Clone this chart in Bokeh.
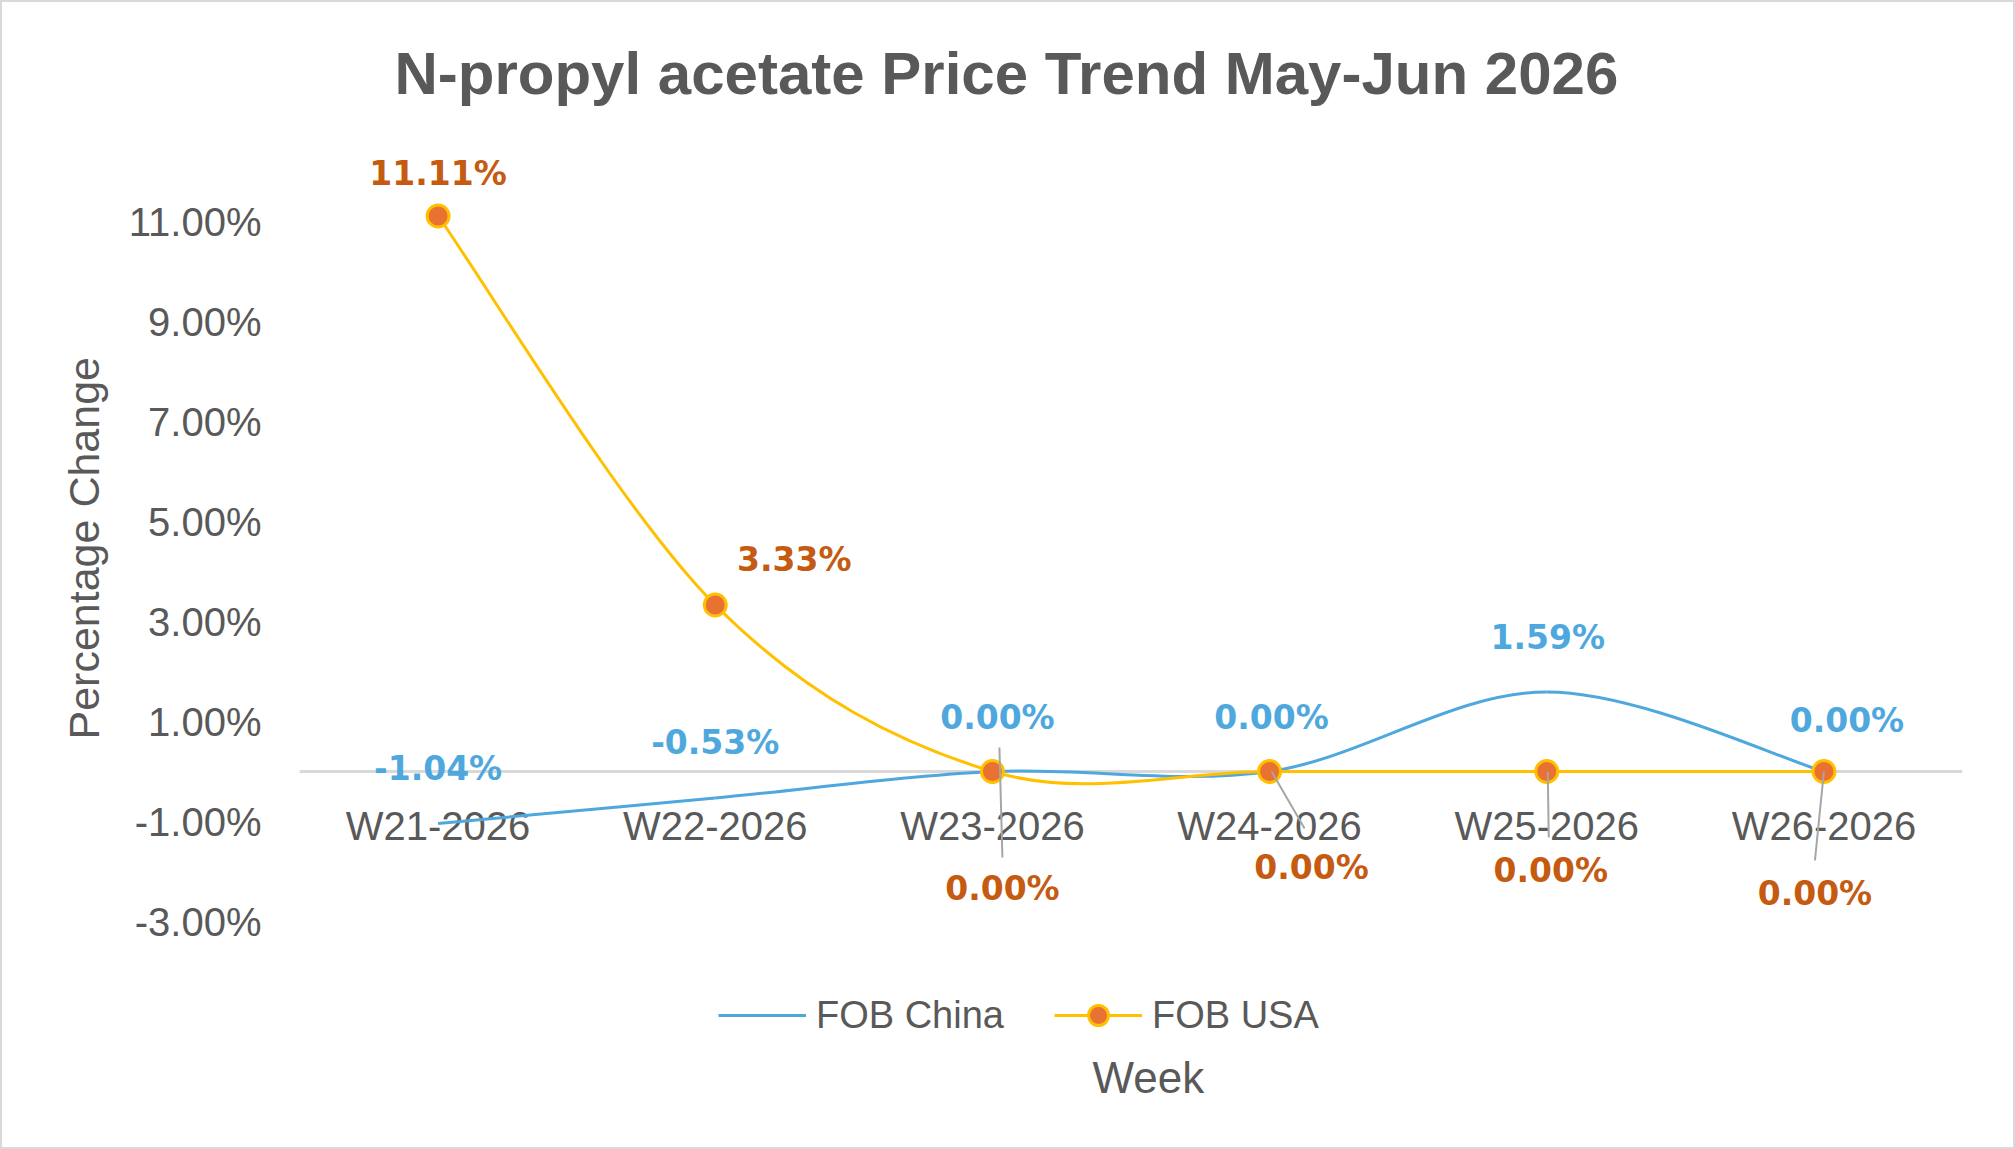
from bokeh.plotting import figure
from bokeh.models import (FixedTicker, PrintfTickFormatter, LinearAxis, Legend,
                          LegendItem, Title, Range1d, Label)
from bokeh.embed import file_html
from bokeh.resources import INLINE
from bokeh.core.properties import value

# ---- data -------------------------------------------------------------
weeks = ["W21-2026", "W22-2026", "W23-2026", "W24-2026", "W25-2026", "W26-2026"]
fob_china = [-1.04, -0.53, 0.00, 0.00, 1.59, 0.00]
fob_usa = [11.11, 3.33, 0.00, 0.00, 0.00, 0.00]
y_ticks = [-3, -1, 1, 3, 5, 7, 9, 11]

# ---- styling ----------------------------------------------------------
BLUE = "#4EA8DE"
GOLD = "#FFC000"
ORANGE_FILL = "#E97132"
ORANGE_TEXT = "#C55A11"
GREY_TEXT = "#595959"
LEADER = "#A6A6A6"
FONT = "Liberation Sans"
LABEL_FONT = "DejaVu Sans"

# the plotting frame runs down to the canvas foot so the legend and the
# axis title can sit inside it
FRAME_W, FRAME_H = 1663, 1020
X_MIN, X_MAX = -0.5, len(weeks) - 0.5
Y_MAX = 13
PX_X = FRAME_W / (X_MAX - X_MIN)
PX_Y = 50.0
Y_MIN = Y_MAX - FRAME_H / PX_Y

xs = list(range(len(weeks)))

p = figure(frame_width=FRAME_W, frame_height=FRAME_H,
           min_border_left=297, min_border_right=51,
           min_border_top=119, min_border_bottom=6,
           x_range=Range1d(X_MIN, X_MAX), y_range=Range1d(Y_MIN, Y_MAX),
           x_axis_location=None, y_axis_location=None,
           output_backend="svg", toolbar_location=None,
           background_fill_color="white", border_fill_color="white")
p.outline_line_color = None
p.xgrid.visible = False
p.ygrid.visible = False
p.styles = {"border": "2px solid #D9D9D9"}

p.title = Title(text="N-propyl acetate Price Trend May-Jun 2026", align="left",
                offset=95, text_font=FONT, text_font_style="bold",
                text_font_size="60px", text_color=GREY_TEXT, standoff=30)

# y axis
yax = LinearAxis(ticker=FixedTicker(ticks=y_ticks),
                 formatter=PrintfTickFormatter(format="%.2f%%"))
yax.axis_line_color = None
yax.major_tick_line_color = None
yax.minor_tick_line_color = None
yax.major_label_standoff = 32
yax.major_label_text_font = FONT
yax.major_label_text_font_size = "40px"
yax.major_label_text_color = GREY_TEXT
p.add_layout(yax, "left")

# y axis title
p.add_layout(Title(text="Percentage Change", align="left", offset=402,
                   vertical_align="bottom", standoff=36, text_font=FONT,
                   text_font_style="normal", text_font_size="43px",
                   text_color=GREY_TEXT), "left")

# category axis crossing at zero
cat_axis = LinearAxis(ticker=FixedTicker(ticks=xs),
                      major_label_overrides={i: w for i, w in enumerate(weeks)})
cat_axis.fixed_location = 0
cat_axis.level = "underlay"
cat_axis.axis_line_color = "#D9D9D9"
cat_axis.axis_line_width = 3
cat_axis.major_tick_line_color = None
cat_axis.minor_tick_line_color = None
cat_axis.major_label_standoff = 26
cat_axis.major_label_text_font = FONT
cat_axis.major_label_text_font_size = "40px"
cat_axis.major_label_text_color = GREY_TEXT
p.add_layout(cat_axis, "below")


# smoothed curves: cubic Bezier segments through the points (tension 1/6)
def smooth_segments(xv, yv):
    n = len(xv)
    seg = dict(x0=[], y0=[], x1=[], y1=[], cx0=[], cy0=[], cx1=[], cy1=[])
    for i in range(n - 1):
        a, b = max(i - 1, 0), min(i + 2, n - 1)
        seg["x0"].append(xv[i]); seg["y0"].append(yv[i])
        seg["x1"].append(xv[i + 1]); seg["y1"].append(yv[i + 1])
        seg["cx0"].append(xv[i] + (xv[i + 1] - xv[a]) / 6)
        seg["cy0"].append(yv[i] + (yv[i + 1] - yv[a]) / 6)
        seg["cx1"].append(xv[i + 1] - (xv[b] - xv[i]) / 6)
        seg["cy1"].append(yv[i + 1] - (yv[b] - yv[i]) / 6)
    return seg


china_curve = p.bezier(**smooth_segments(xs, fob_china), line_color=BLUE,
                       line_width=3)
usa_curve = p.bezier(**smooth_segments(xs, fob_usa), line_color=GOLD,
                     line_width=3)

usa_dots = p.scatter(xs, fob_usa, size=22, fill_color=ORANGE_FILL,
                     line_color=GOLD, line_width=3)

# leader lines for the FOB USA labels (pixel offsets from each point)
leader_idx = [2, 3, 4, 5]
leader_start = [(7, -24), (2, 0), (1, 0), (0, 0)]
leader_end = [(10, 86), (35, 57), (2, 66), (-9, 89)]
p.segment(x0=[xs[i] + s[0] / PX_X for i, s in zip(leader_idx, leader_start)],
          y0=[fob_usa[i] - s[1] / PX_Y for i, s in zip(leader_idx, leader_start)],
          x1=[xs[i] + e[0] / PX_X for i, e in zip(leader_idx, leader_end)],
          y1=[fob_usa[i] - e[1] / PX_Y for i, e in zip(leader_idx, leader_end)],
          line_color=LEADER, line_width=2)

# data labels
china_dx = [0, 0, 5, 2, 1, 23]
china_dy = [-55, -56, -54, -54, -55, -51]
usa_dx = [0, 79, 10, 42, 4, -9]
usa_dy = [-43, -46, 117, 96, 99, 122]

p.text(xs, fob_china, text=[f"{v:.2f}%" for v in fob_china],
       x_offset=china_dx, y_offset=china_dy, text_align="center",
       text_baseline="middle", text_font=value(LABEL_FONT),
       text_font_style="bold", text_font_size="33px", text_color=BLUE)
p.text(xs, fob_usa, text=[f"{v:.2f}%" for v in fob_usa],
       x_offset=usa_dx, y_offset=usa_dy, text_align="center",
       text_baseline="middle", text_font=value(LABEL_FONT),
       text_font_style="bold", text_font_size="33px", text_color=ORANGE_TEXT)

# legend
legend = Legend(items=[LegendItem(label="FOB China", renderers=[china_curve]),
                       LegendItem(label="FOB USA",
                                  renderers=[usa_curve, usa_dots])],
                orientation="horizontal", location=(419, 101),
                glyph_width=88, glyph_height=50, label_standoff=10, spacing=50,
                padding=0, margin=0, border_line_color=None,
                background_fill_alpha=0, label_text_font=FONT,
                label_text_font_size="38px", label_text_color=GREY_TEXT)
p.add_layout(legend, "center")

# x axis title
p.add_layout(Label(text="Week", x=793, y=64, x_units="screen", y_units="screen",
                   text_align="left", text_baseline="middle", text_font=FONT,
                   text_font_size="44px", text_color=GREY_TEXT))

open("out.html", "w").write(file_html(p, INLINE))
